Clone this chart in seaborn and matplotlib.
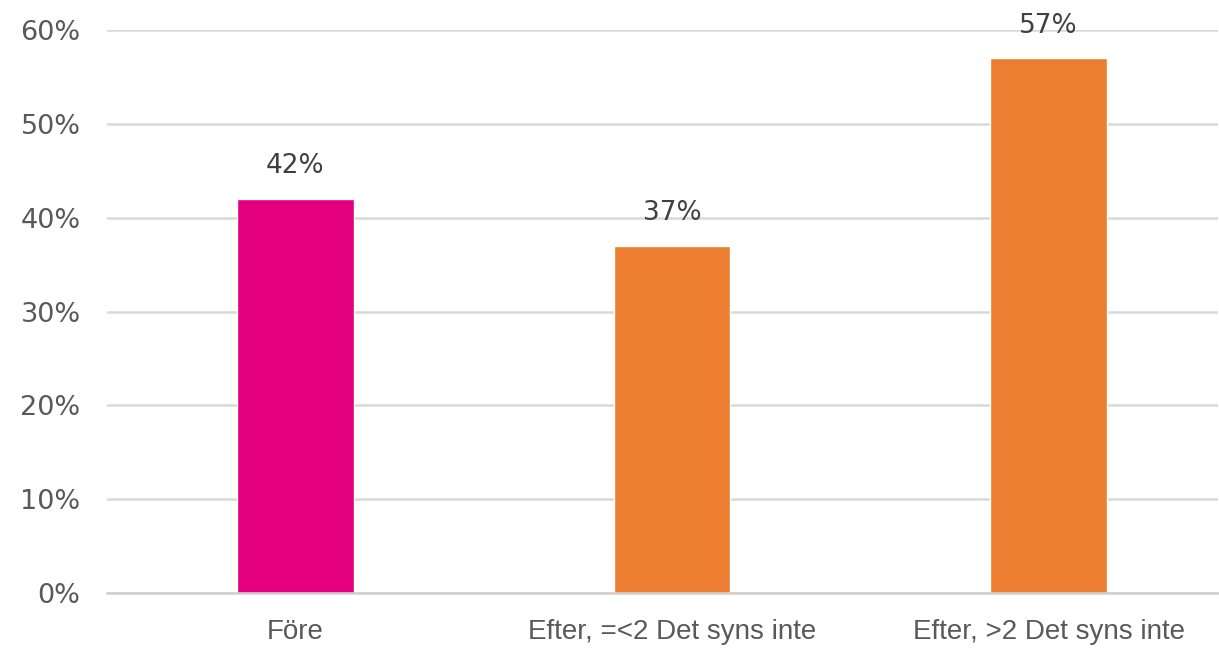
import matplotlib
matplotlib.use("Agg")
import matplotlib.pyplot as plt
import seaborn as sns
import pandas as pd
from matplotlib.ticker import PercentFormatter

categories = ["Före", "Efter, =<2 Det syns inte", "Efter, >2 Det syns inte"]
values = [42, 37, 57]
colors = ["#E4007C", "#ED7D31", "#ED7D31"]
y_ticks = [0, 10, 20, 30, 40, 50, 60]

sns.set_theme(style="white")
plt.rcParams["font.family"] = ["DejaVu Sans"]

df = pd.DataFrame({"kategori": categories, "andel": values})

fig = plt.figure(figsize=(12.19, 6.52), dpi=100)
ax = fig.add_axes([107 / 1219, 59 / 652, 1111 / 1219, 563 / 652])

sns.barplot(data=df, x="kategori", y="andel", hue="kategori", palette=colors,
            width=0.31, legend=False, ax=ax, saturation=1)

ax.set_ylim(0, 60)
ax.set_xlim(-0.5, 2.45)
ax.set_yticks(y_ticks)
ax.yaxis.set_major_formatter(PercentFormatter(decimals=0))
ax.grid(axis="y", color="#D9D9D9", linewidth=1.8)
ax.set_axisbelow(True)
for side in ["top", "right", "left"]:
    ax.spines[side].set_visible(False)
ax.spines["bottom"].set_color("#D0D0D0")
ax.spines["bottom"].set_linewidth(1.8)
ax.set_xlabel("")
ax.set_ylabel("")
ax.tick_params(axis="y", length=0, pad=19, labelsize=19.5, labelcolor="#595959")
ax.tick_params(axis="x", length=0, pad=19, labelcolor="#595959")
for lbl in ax.get_xticklabels():
    lbl.set_fontfamily(["Liberation Sans", "DejaVu Sans"])
    lbl.set_fontsize(20)

for i, v in enumerate(values):
    ax.annotate(f"{v}%", xy=(i, v), xytext=(0, 14), textcoords="offset points",
                ha="center", va="bottom", fontsize=19, color="#404040",
                annotation_clip=False)

fig.savefig("out.png", dpi=100)
